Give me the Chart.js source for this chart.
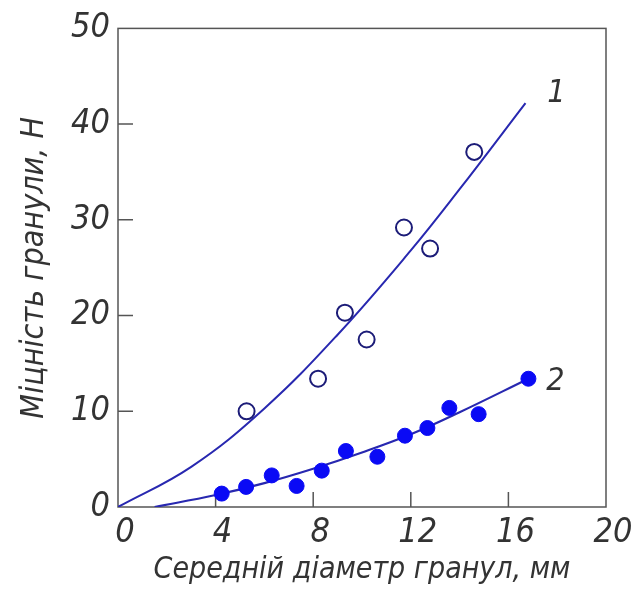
<!DOCTYPE html>
<html><head><meta charset="utf-8">
<script src="https://cdn.jsdelivr.net/npm/chart.js@4.4.1/dist/chart.umd.min.js"></script>
<style>html,body{margin:0;padding:0;background:#fff;}#wrap{width:635px;height:593px;}</style>
</head><body><div id="wrap"><canvas id="c" width="635" height="593"></canvas></div>
<script>
const xTicks = [0, 4, 8, 12, 16, 20];
const yTicks = [0, 10, 20, 30, 40, 50];
const xTitle = 'Середній діаметр гранул, мм';
const yTitle = 'Міцність гранули, Н';
const seriesLabels = ['1', '2'];

// curve 1 (fitted line through open circles)
const curve1X = [0, 3, 6, 9, 12, 14, 16.7];
const curve1Y = [0, 4.2, 10.3, 18.0, 26.8, 33.2, 42.2];
// curve 2 (fitted line through filled dots)
const curve2X = [1.5, 4, 6, 8, 10, 12, 14, 16.82];
const curve2Y = [0, 1.25, 2.5, 4.0, 5.7, 7.6, 9.9, 13.4];
// open circles (series 1)
const open1X = [5.27, 8.2, 9.3, 10.19, 11.72, 12.79, 14.6];
const open1Y = [10.0, 13.4, 20.3, 17.5, 29.2, 27.0, 37.1];
// filled dots (series 2)
const dots2X = [4.25, 5.25, 6.3, 7.32, 8.35, 9.34, 10.63, 11.76, 12.68, 13.58, 14.78, 16.82];
const dots2Y = [1.4, 2.1, 3.3, 2.2, 3.8, 5.85, 5.25, 7.45, 8.25, 10.35, 9.7, 13.4];

const toXY = (xs, ys) => xs.map((x, i) => ({x: x, y: ys[i]}));
const FONT = '"DejaVu Sans Condensed", "DejaVu Sans", sans-serif';
const TXT = '#333333';
const FRAME = '#555555';

const framePlugin = {
  id: 'frameTicks',
  beforeDatasetsDraw(chart) {
    const {ctx, chartArea: a, scales: {x, y}} = chart;
    ctx.save();
    ctx.strokeStyle = FRAME;
    ctx.lineWidth = 1.5;
    ctx.strokeRect(a.left, a.top, a.right - a.left, a.bottom - a.top);
    ctx.beginPath();
    xTicks.slice(1, -1).forEach(v => {
      const px = x.getPixelForValue(v);
      ctx.moveTo(px, a.bottom); ctx.lineTo(px, a.bottom - 15);
    });
    yTicks.slice(1, -1).forEach(v => {
      const py = y.getPixelForValue(v);
      ctx.moveTo(a.left, py); ctx.lineTo(a.left + 15, py);
    });
    ctx.stroke();
    ctx.restore();
  },
  afterDatasetsDraw(chart) {
    const {ctx, scales: {x, y}} = chart;
    ctx.save();
    ctx.fillStyle = TXT;
    ctx.font = 'italic 32px ' + FONT;
    ctx.textAlign = 'center';
    ctx.textBaseline = 'middle';
    const n1 = curve1X.length - 1, n2 = curve2X.length - 1;
    ctx.fillText(seriesLabels[0], x.getPixelForValue(curve1X[n1]) + 31, y.getPixelForValue(curve1Y[n1]) - 9);
    ctx.fillText(seriesLabels[1], x.getPixelForValue(curve2X[n2]) + 27, y.getPixelForValue(curve2Y[n2]) + 3);
    ctx.restore();
  }
};

new Chart(document.getElementById('c'), {
  type: 'scatter',
  data: {
    datasets: [
      {label: '1', data: toXY(open1X, open1Y), pointStyle: 'circle', pointRadius: 8, pointHoverRadius: 8,
       backgroundColor: 'rgba(255,255,255,0)', borderColor: '#1c1c78', borderWidth: 2, order: 1},
      {label: '2', data: toXY(dots2X, dots2Y), pointStyle: 'circle', pointRadius: 7.5, pointHoverRadius: 7.5,
       backgroundColor: '#0a0af5', borderColor: '#0a0af5', borderWidth: 1, order: 2},
      {label: 'fit 1', data: toXY(curve1X, curve1Y), showLine: true, pointRadius: 0, borderColor: '#2828b0',
       borderWidth: 2, tension: 0.4, order: 3},
      {label: 'fit 2', data: toXY(curve2X, curve2Y), showLine: true, pointRadius: 0, borderColor: '#2828b0',
       borderWidth: 2.2, tension: 0.4, order: 4}
    ]
  },
  options: {
    responsive: false,
    animation: false,
    devicePixelRatio: 1,
    layout: {padding: {top: 20, right: 29, left: 0, bottom: 0}},
    plugins: {legend: {display: false}, tooltip: {enabled: false}},
    scales: {
      x: {
        type: 'linear', min: 0, max: 20,
        afterBuildTicks: s => { s.ticks = xTicks.map(v => ({value: v})); },
        afterFit: s => { s.height = 86; },
        grid: {display: false, drawTicks: false},
        border: {display: false},
        ticks: {color: TXT, padding: 6, labelOffset: 7, maxRotation: 0, autoSkip: false,
                font: {family: FONT, size: 34, style: 'italic'}},
        title: {display: true, text: xTitle, color: TXT, padding: {top: 0, bottom: 5},
                font: {family: FONT, size: 30, style: 'italic', lineHeight: 1.2}}
      },
      y: {
        type: 'linear', min: 0, max: 50,
        afterBuildTicks: s => { s.ticks = yTicks.map(v => ({value: v})); },
        afterFit: s => { s.width = 118; },
        grid: {display: false, drawTicks: false},
        border: {display: false},
        ticks: {color: TXT, padding: 8, autoSkip: false,
                font: {family: FONT, size: 34, style: 'italic'}},
        title: {display: true, text: yTitle, color: TXT, padding: {top: 15, bottom: 0},
                font: {family: FONT, size: 32, style: 'italic', lineHeight: 1.2}}
      }
    }
  },
  plugins: [framePlugin]
});
</script></body></html>
